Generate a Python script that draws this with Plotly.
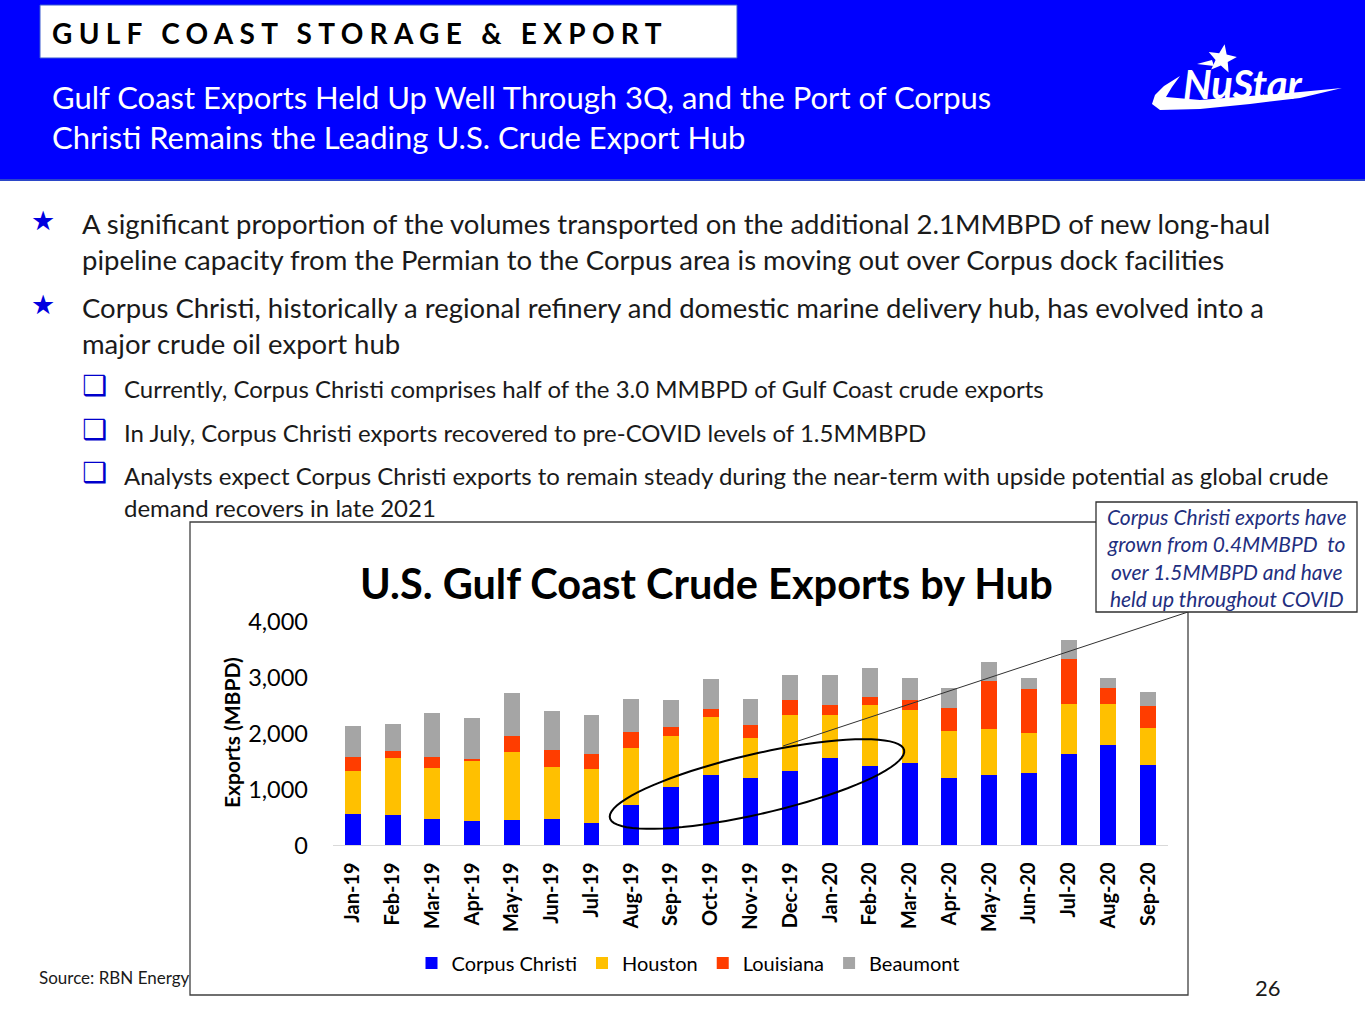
import numpy as np
import plotly.graph_objects as go

W, H = 1365, 1024

months = ["Jan-19", "Feb-19", "Mar-19", "Apr-19", "May-19", "Jun-19", "Jul-19",
          "Aug-19", "Sep-19", "Oct-19", "Nov-19", "Dec-19", "Jan-20", "Feb-20",
          "Mar-20", "Apr-20", "May-20", "Jun-20", "Jul-20", "Aug-20", "Sep-20"]
corpus_christi = [560, 548, 476, 440, 446, 464, 405, 714, 1048, 1262, 1202, 1327,
                  1554, 1417, 1470, 1196, 1262, 1286, 1637, 1786, 1435]
houston = [767, 1006, 905, 1066, 1215, 935, 964, 1024, 904, 1024, 715, 994,
           779, 1083, 941, 840, 821, 714, 887, 744, 654]
louisiana = [250, 131, 196, 42, 291, 303, 262, 286, 161, 149, 232, 268,
             173, 149, 178, 416, 846, 792, 803, 280, 393]
beaumont = [548, 488, 786, 726, 762, 691, 702, 583, 476, 529, 458, 447,
            542, 512, 405, 352, 339, 190, 334, 172, 250]
y_ticks = [0, 1000, 2000, 3000, 4000]

series = [("Corpus Christi", corpus_christi, "#0000FF"),
          ("Houston", houston, "#FFC000"),
          ("Louisiana", louisiana, "#FF3D00"),
          ("Beaumont", beaumont, "#A5A5A5")]

FONT = "Lato"


def px(x):
    return x / W


def py(y):
    return 1 - y / H


def path_from(pts, close=True):
    s = "M " + " L ".join(f"{px(a):.5f},{py(b):.5f}" for a, b in pts)
    return s + (" Z" if close else "")


def star_pts(cx, cy, r_out, r_in, rot=-90):
    pts = []
    for i in range(10):
        r = r_out if i % 2 == 0 else r_in
        t = np.deg2rad(rot + i * 36)
        pts.append((cx + r * np.cos(t), cy + r * np.sin(t)))
    return pts


fig = go.Figure()
for name, vals, col in series:
    fig.add_trace(go.Bar(x=months, y=vals, name=name, marker_color=col,
                         marker_line_width=0, width=0.4))

shapes = []
ann = []

# header band
shapes.append(dict(type="rect", xref="paper", yref="paper", x0=px(-2), x1=px(1367),
                   y0=py(-2), y1=py(180), fillcolor="#0000FF",
                   line=dict(color="#2B46C8", width=2), layer="below"))
shapes.append(dict(type="rect", xref="paper", yref="paper", x0=px(40), x1=px(737),
                   y0=py(5), y1=py(58), fillcolor="white",
                   line=dict(color="#3A5BD0", width=1), layer="below"))
ann.append(dict(x=px(50), y=py(33), xref="paper", yref="paper", xanchor="left",
                yanchor="middle", showarrow=False,
                text="<b><span style='letter-spacing:6.3px'>GULF COAST STORAGE &amp; EXPORT</span></b>",
                font=dict(family=FONT, size=28, color="black")))
ann.append(dict(x=px(50), y=py(117), xref="paper", yref="paper", xanchor="left",
                yanchor="middle", showarrow=False, align="left",
                text="Gulf Coast Exports Held Up Well Through 3Q, and the Port of Corpus<br>"
                     "Christi Remains the Leading U.S. Crude Export Hub",
                font=dict(family=FONT, size=31, color="white")))

# logo
ann.append(dict(x=px(1243), y=py(84), xref="paper", yref="paper", xanchor="center",
                yanchor="middle", showarrow=False, text="<b><i>NuStar</i></b>",
                font=dict(family=FONT, size=40, color="white")))
shapes.append(dict(type="path", xref="paper", yref="paper",
                   path=path_from(star_pts(1222, 59, 15, 6.5, rot=-80)),
                   fillcolor="white", line=dict(width=0)))
shapes.append(dict(type="path", xref="paper", yref="paper",
                   path=path_from([(1197, 64), (1212, 60), (1214, 66)]),
                   fillcolor="white", line=dict(width=0)))
swoosh = [(1152, 104), (1155, 95), (1164, 86), (1180, 76), (1172, 87), (1166, 97),
          (1200, 100), (1250, 96), (1300, 92), (1342, 88), (1300, 98), (1250, 104),
          (1200, 109), (1160, 110)]
shapes.append(dict(type="path", xref="paper", yref="paper", path=path_from(swoosh),
                   fillcolor="white", line=dict(width=0)))

# bullets
big = 27.5
small = 24
for yy, txt in [(223, "A significant proportion of the volumes transported on the additional 2.1MMBPD of new long-haul"),
                (259, "pipeline capacity from the Permian to the Corpus area is moving out over Corpus dock facilities"),
                (307, "Corpus Christi, historically a regional refinery and domestic marine delivery hub, has evolved into a"),
                (343, "major crude oil export hub")]:
    ann.append(dict(x=px(80), y=py(yy), xref="paper", yref="paper", xanchor="left",
                    yanchor="middle", showarrow=False, text=txt,
                    font=dict(family=FONT, size=big, color="#1A1A1A")))
for yy in (223, 307):
    ann.append(dict(x=px(43), y=py(yy - 3), xref="paper", yref="paper", xanchor="center",
                    yanchor="middle", showarrow=False, text="★",
                    font=dict(family="DejaVu Sans", size=27, color="#0000E0")))
for yy, txt in [(388, "Currently, Corpus Christi comprises half of the 3.0 MMBPD of Gulf Coast crude exports"),
                (432, "In July, Corpus Christi exports recovered to pre-COVID levels of 1.5MMBPD"),
                (475, "Analysts expect Corpus Christi exports to remain steady during the near-term with upside potential as global crude"),
                (507, "demand recovers in late 2021")]:
    ann.append(dict(x=px(122), y=py(yy), xref="paper", yref="paper", xanchor="left",
                    yanchor="middle", showarrow=False, text=txt,
                    font=dict(family=FONT, size=small, color="#1A1A1A")))
for yy in (388, 432, 475):
    ann.append(dict(x=px(94), y=py(yy - 3), xref="paper", yref="paper", xanchor="center",
                    yanchor="middle", showarrow=False, text="<b>❑</b>",
                    font=dict(family="DejaVu Sans", size=28, color="#0000CC")))

# chart box
shapes.append(dict(type="rect", xref="paper", yref="paper", x0=px(190), x1=px(1188),
                   y0=py(522), y1=py(995), fillcolor="rgba(0,0,0,0)",
                   line=dict(color="#404040", width=1.3)))

# chart title & y title
ann.append(dict(x=px(706), y=py(583), xref="paper", yref="paper", xanchor="center",
                yanchor="middle", showarrow=False,
                text="<b>U.S. Gulf Coast Crude Exports by Hub</b>",
                font=dict(family=FONT, size=41.5, color="black")))
ann.append(dict(x=px(231), y=py(733), xref="paper", yref="paper", xanchor="center",
                yanchor="middle", showarrow=False, textangle=-90,
                text="<b>Exports (MBPD)</b>",
                font=dict(family=FONT, size=21, color="black")))

# ellipse highlight
cx, cy, a, b, ang = 757, 784, 151, 30, np.deg2rad(-13)
th = np.linspace(0, 2 * np.pi, 80)
ex = cx + a * np.cos(th) * np.cos(ang) - b * np.sin(th) * np.sin(ang)
ey = cy + a * np.cos(th) * np.sin(ang) + b * np.sin(th) * np.cos(ang)
shapes.append(dict(type="path", xref="paper", yref="paper",
                   path=path_from(list(zip(ex, ey))),
                   fillcolor="rgba(0,0,0,0)", line=dict(color="black", width=2)))
# connector
shapes.append(dict(type="line", xref="paper", yref="paper", x0=px(1188), y0=py(612),
                   x1=px(783), y1=py(746), line=dict(color="#303030", width=1)))

# callout
shapes.append(dict(type="rect", xref="paper", yref="paper", x0=px(1096), x1=px(1357),
                   y0=py(502), y1=py(612), fillcolor="white",
                   line=dict(color="#303030", width=1.3)))
ann.append(dict(x=px(1226), y=py(557), xref="paper", yref="paper", xanchor="center",
                yanchor="middle", showarrow=False, align="center",
                text="<i>Corpus Christi exports have<br>grown from 0.4MMBPD  to<br>"
                     "over 1.5MMBPD and have<br>held up throughout COVID</i>",
                font=dict(family=FONT, size=21, color="#1F2F80")))

# source & page
ann.append(dict(x=px(37), y=py(977), xref="paper", yref="paper", xanchor="left",
                yanchor="middle", showarrow=False, text="Source: RBN Energy",
                font=dict(family=FONT, size=17, color="#1A1A1A")))
ann.append(dict(x=px(1268), y=py(987), xref="paper", yref="paper", xanchor="center",
                yanchor="middle", showarrow=False, text="26",
                font=dict(family=FONT, size=22, color="#1A1A1A")))

fig.update_layout(
    width=W, height=H, margin=dict(l=0, r=0, t=0, b=0, pad=0, autoexpand=False),
    paper_bgcolor="white", plot_bgcolor="white", barmode="stack",
    shapes=shapes, annotations=ann, showlegend=True,
    legend=dict(orientation="h", x=px(688), xanchor="center", y=py(963),
                yanchor="middle", font=dict(family=FONT, size=20, color="black"),
                traceorder="normal", itemwidth=30, bgcolor="rgba(0,0,0,0)"),
    xaxis=dict(domain=[px(333), px(1168)], range=[-0.5, 20.5], type="category",
               tickangle=-90, tickfont=dict(family=FONT, size=20, color="black"),
               showgrid=False, showline=True, linecolor="#D9D9D9", linewidth=1,
               ticks="", ticklabelstandoff=8, automargin=False),
    yaxis=dict(domain=[py(845.3), py(621.3)], range=[0, 4000], tickvals=y_ticks,
               tickformat=",", tickfont=dict(family=FONT, size=23.5, color="black"),
               showgrid=False, zeroline=False, showline=False, ticks="",
               ticklabelstandoff=24, automargin=False),
)
fig.update_xaxes(tickprefix="<b>", ticksuffix="</b>")

fig.write_html("out.html", config={"displayModeBar": False},
               post_script="document.body.style.margin='0';")
